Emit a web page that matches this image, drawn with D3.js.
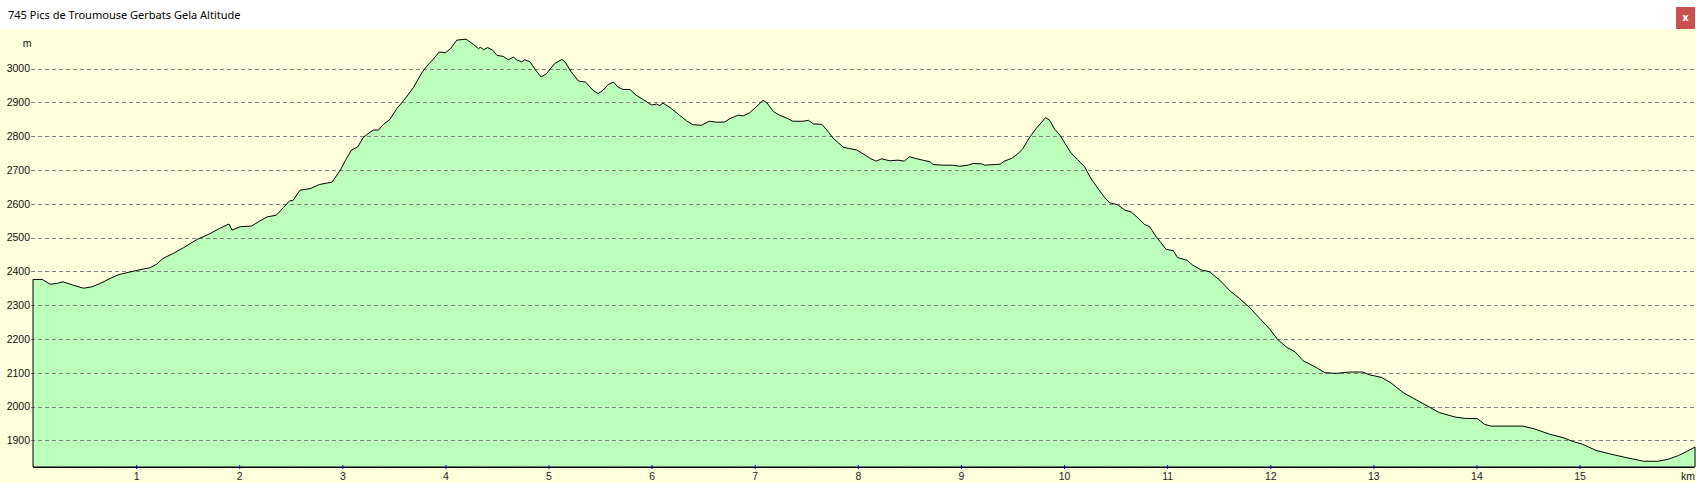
<!DOCTYPE html>
<html>
<head>
<meta charset="utf-8">
<script src="https://cdn.jsdelivr.net/npm/d3@7"></script>
<style>
  html, body { margin: 0; padding: 0; background: #ffffff; overflow: hidden; }
  svg { display: block; }
</style>
</head>
<body>
<svg id="chart" width="1696" height="483"></svg>
<script>
const title = "745 Pics de Troumouse Gerbats Gela Altitude";

const distanceKm = [
  0, 0.09, 0.165, 0.23, 0.29, 0.39, 0.49, 0.57, 0.65, 0.75, 0.83, 0.94,
  1.07, 1.13, 1.20, 1.26, 1.36, 1.46, 1.59, 1.72, 1.81, 1.90, 1.93,
  2.01, 2.12, 2.20, 2.27, 2.36, 2.43, 2.49, 2.52, 2.59, 2.69, 2.78, 2.90, 2.98,
  3.04, 3.09, 3.15, 3.20, 3.24, 3.30, 3.35, 3.40, 3.46, 3.53, 3.61, 3.69, 3.77, 3.82, 3.88, 3.94,
  4.00, 4.05, 4.11, 4.20, 4.27, 4.32, 4.34, 4.37, 4.41, 4.46, 4.50, 4.56, 4.61, 4.66, 4.69, 4.74, 4.77, 4.82, 4.88, 4.93, 4.98,
  5.06, 5.13, 5.16, 5.22, 5.29, 5.36, 5.43, 5.48, 5.53, 5.58, 5.63, 5.67, 5.72, 5.79, 5.85, 5.92,
  6.00, 6.05, 6.08, 6.11, 6.19, 6.27, 6.34, 6.40, 6.48, 6.56, 6.64, 6.71, 6.76, 6.84, 6.89, 6.95,
  7.02, 7.08, 7.12, 7.18, 7.24, 7.32, 7.37, 7.47, 7.52, 7.57, 7.65, 7.70, 7.76, 7.86, 7.91, 7.99,
  8.07, 8.12, 8.18, 8.23, 8.31, 8.39, 8.45, 8.50, 8.57, 8.63, 8.70, 8.73, 8.83, 8.92, 8.99,
  9.07, 9.12, 9.20, 9.23, 9.38, 9.42, 9.49, 9.55, 9.60, 9.67, 9.73, 9.78, 9.82, 9.86, 9.91, 9.96,
  10.01, 10.07, 10.13, 10.20, 10.26, 10.33, 10.39, 10.44, 10.52, 10.59, 10.65, 10.72, 10.78, 10.83, 10.89, 10.99,
  11.06, 11.10, 11.19, 11.25, 11.33, 11.41, 11.51, 11.61, 11.70, 11.80, 11.90, 11.99,
  12.07, 12.16, 12.24, 12.32, 12.38, 12.46, 12.53, 12.64, 12.77, 12.90, 12.96,
  13.08, 13.17, 13.29, 13.42, 13.54, 13.64, 13.79, 13.88,
  14.01, 14.08, 14.14, 14.45, 14.56, 14.71, 14.84, 14.94,
  15.03, 15.16, 15.29, 15.45, 15.62, 15.76, 15.86, 15.96, 16.04, 16.12
];

const altitudeM = [
  2376, 2376, 2362, 2364, 2369, 2359, 2350, 2354, 2364, 2379, 2390, 2398,
  2407, 2410, 2421, 2438, 2453, 2470, 2494, 2512, 2527, 2540, 2522,
  2532, 2534, 2549, 2561, 2566, 2589, 2609, 2609, 2640, 2645, 2657, 2664, 2699,
  2734, 2759, 2768, 2795, 2805, 2818, 2818, 2835, 2849, 2882, 2911, 2944, 2987, 3007, 3027, 3049,
  3047, 3059, 3084, 3087, 3072, 3059, 3063, 3056, 3062, 3054, 3039, 3036, 3026, 3034, 3026, 3020, 3026, 3020, 2993, 2975, 2985,
  3015, 3027, 3020, 2990, 2963, 2960, 2936, 2926, 2936, 2953, 2960, 2946, 2938, 2938, 2921, 2908,
  2892, 2895, 2890, 2898, 2882, 2862, 2845, 2834, 2832, 2844, 2841, 2842, 2852, 2862, 2860, 2869,
  2888, 2906, 2898, 2873, 2862, 2852, 2844, 2844, 2847, 2836, 2835, 2818, 2794, 2767, 2764, 2759,
  2744, 2734, 2726, 2733, 2727, 2729, 2726, 2739, 2733, 2729, 2724, 2716, 2714, 2714, 2711,
  2714, 2719, 2718, 2714, 2717, 2726, 2734, 2747, 2763, 2798, 2823, 2840, 2855, 2847, 2820, 2803,
  2778, 2749, 2731, 2709, 2675, 2645, 2620, 2603, 2597, 2581, 2576, 2557, 2539, 2532, 2504, 2465,
  2461, 2441, 2433, 2418, 2404, 2399, 2374, 2342, 2320, 2293, 2260, 2231,
  2199, 2175, 2162, 2135, 2126, 2113, 2100, 2098, 2102, 2102, 2094,
  2086, 2070, 2041, 2019, 1999, 1982, 1969, 1965,
  1964, 1947, 1942, 1942, 1934, 1918, 1908, 1896,
  1888, 1870, 1860, 1849, 1838, 1838, 1844, 1855, 1867, 1880
];

const yTickValues = [1900, 2000, 2100, 2200, 2300, 2400, 2500, 2600, 2700, 2800, 2900, 3000];
const xTickValues = [1, 2, 3, 4, 5, 6, 7, 8, 9, 10, 11, 12, 13, 14, 15];
const yUnit = "m";
const xUnit = "km";

const W = 1696, H = 483;
const titleBarH = 29;
const plot = { left: 33, right: 1694, top: 29, bottom: 467 };

const data = distanceKm.map((d, i) => ({ km: d, m: altitudeM[i] }));

const x = d3.scaleLinear().domain([0, 16.11]).range([plot.left, plot.right]);
const y = d3.scaleLinear().domain([1821, 3117]).range([plot.bottom, plot.top]);

const svg = d3.select("#chart");

// title bar
svg.append("rect").attr("x", 0).attr("y", 0).attr("width", W).attr("height", titleBarH).attr("fill", "#ffffff");
const titleText = svg.append("text")
  .attr("x", 8).attr("y", 19)
  .attr("font-family", "'Noto Sans', 'Open Sans', sans-serif")
  .attr("font-size", 12)
  .attr("fill", "#000")
  .text(title);
const tl = titleText.node().getComputedTextLength();
titleText.attr("font-size", 12 * 233 / tl);

// close button
svg.append("rect").attr("x", 1676).attr("y", 7).attr("width", 19).attr("height", 22).attr("fill", "#c75050");
svg.append("text").attr("x", 1685.5).attr("y", 21)
  .attr("text-anchor", "middle")
  .attr("font-family", "'DejaVu Sans', sans-serif")
  .attr("font-weight", "bold")
  .attr("font-size", 10)
  .attr("fill", "#ffffff")
  .text("x");

// chart background
svg.append("rect").attr("x", 0).attr("y", titleBarH).attr("width", W).attr("height", H - titleBarH).attr("fill", "#ffffdd");

// area
const area = d3.area()
  .x(d => x(d.km))
  .y0(plot.bottom)
  .y1(d => y(d.m))
  .curve(d3.curveLinear);

svg.append("path")
  .datum(data)
  .attr("d", area)
  .attr("fill", "#bbffbb")
  .attr("stroke", "none");

// gridlines (on top of fill)
const yAxisG = svg.append("g").attr("class", "y-grid");
yAxisG.selectAll("line")
  .data(yTickValues)
  .join("line")
  .attr("x1", 31).attr("x2", plot.right)
  .attr("y1", d => Math.round(y(d)) + 0.5)
  .attr("y2", d => Math.round(y(d)) + 0.5)
  .attr("stroke", "#808080")
  .attr("stroke-width", 1)
  .attr("stroke-dasharray", "4,3");

// outline of profile
svg.append("path")
  .datum(data)
  .attr("d", area)
  .attr("fill", "none")
  .attr("stroke", "#000")
  .attr("stroke-width", 1)
  .attr("stroke-linejoin", "round");

// y axis labels
const yAxis = d3.axisLeft(y).tickValues(yTickValues).tickSize(0).tickPadding(0).tickFormat(d3.format("d"));
const gy = svg.append("g").attr("transform", `translate(30,0)`).call(yAxis);
gy.select(".domain").remove();
gy.selectAll("text")
  .attr("font-family", "'Liberation Sans', Arial, sans-serif")
  .attr("font-size", 10.5)
  .attr("fill", "#111");

// x axis
svg.append("line")
  .attr("x1", plot.left).attr("x2", plot.right)
  .attr("y1", plot.bottom + 0.5).attr("y2", plot.bottom + 0.5)
  .attr("stroke", "#000").attr("stroke-width", 1);

const xAxis = d3.axisBottom(x).tickValues(xTickValues).tickSize(0).tickPadding(0).tickFormat(d3.format("d"));
const gx = svg.append("g").attr("transform", `translate(0,${plot.bottom})`).call(xAxis);
gx.select(".domain").remove();
gx.selectAll("text")
  .attr("dy", null)
  .attr("y", 13)
  .attr("font-family", "'Liberation Sans', Arial, sans-serif")
  .attr("font-size", 10.5)
  .attr("fill", "#2a1a2a");
gx.selectAll(".tick").append("line")
  .attr("x1", 0).attr("x2", 0)
  .attr("y1", -2).attr("y2", 2)
  .attr("stroke", "#0000ff")
  .attr("stroke-width", 1);

// unit labels
svg.append("text").attr("x", 27).attr("y", 46.5)
  .attr("text-anchor", "middle")
  .attr("font-family", "'Liberation Sans', Arial, sans-serif")
  .attr("font-size", 10.5)
  .attr("fill", "#111")
  .text(yUnit);
svg.append("text").attr("x", 1695).attr("y", 480)
  .attr("text-anchor", "end")
  .attr("font-family", "'Liberation Sans', Arial, sans-serif")
  .attr("font-size", 10.5)
  .attr("fill", "#111")
  .text(xUnit);
</script>
</body>
</html>
